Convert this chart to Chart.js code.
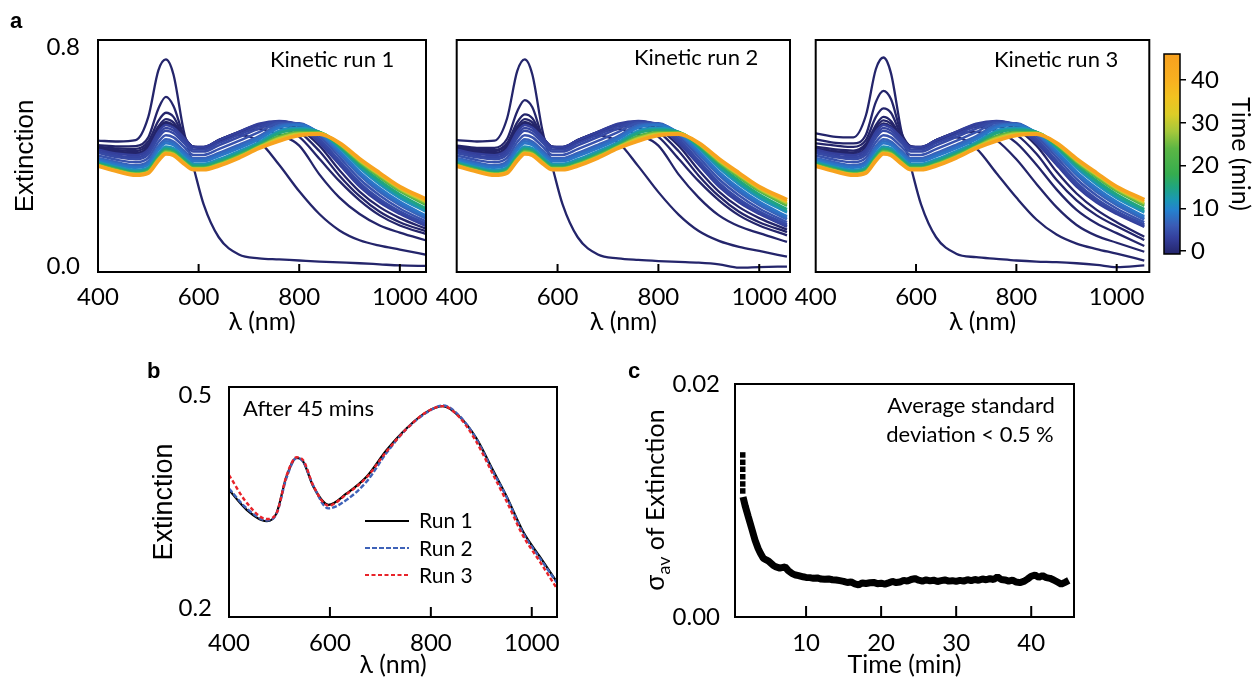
<!DOCTYPE html>
<html><head><meta charset="utf-8">
<script src="https://cdn.jsdelivr.net/npm/chart.js@4.4.1/dist/chart.umd.min.js"></script>
<style>
html,body{margin:0;padding:0;background:#fff;}
#wrap{position:relative;width:1255px;height:680px;overflow:hidden;background:#fff;}
canvas{position:absolute;}
</style></head><body>
<div id="wrap">
<canvas id="a1" width="440" height="345" style="left:0px;top:0px"></canvas>
<canvas id="a2" width="370" height="345" style="left:430px;top:0px"></canvas>
<canvas id="a3" width="370" height="345" style="left:790px;top:0px"></canvas>
<canvas id="cb" width="105" height="240" style="left:1150px;top:34px"></canvas>
<canvas id="pb" width="440" height="330" style="left:140px;top:350px"></canvas>
<canvas id="pc" width="500" height="330" style="left:600px;top:350px"></canvas>
</div>
<script>
// ---------------- DATA ----------------
// Panel a: wavelength grid (nm)
const wavelengthsA = [400,440,475,500,520,535,550,570,590,610,640,680,720,760,800,840,880,920,960,1000,1055];
const xTicksA = [400,600,800,1000];
const yTicksA = [0,0.8];

// early spectra (t = 0 .. 2.5 min), one set per kinetic run
const earlyTimes = [0,0.5,1,1.5,2,2.5];
const run1_t0  = [.458,.455,.46,.545,.715,.755,.70,.497,.36,.225,.105,.042,.028,.024,.02,.016,.013,.01,.006,.002,.0];
const run1_t05 = [.442,.437,.438,.47,.575,.618,.585,.48,.435,.432,.455,.478,.455,.37,.273,.19,.13,.094,.074,.06,.04];
const run1_t1  = [.436,.43,.428,.455,.53,.56,.545,.475,.435,.433,.458,.485,.50,.48,.44,.335,.25,.19,.148,.122,.092];
const run1_t15 = [.432,.423,.42,.445,.51,.537,.525,.472,.435,.434,.46,.488,.51,.505,.472,.392,.31,.24,.185,.148,.115];
const run1_t2  = [.428,.418,.413,.437,.50,.527,.515,.47,.435,.434,.46,.489,.515,.515,.49,.42,.33,.255,.198,.16,.125];
const run1_t25 = [.426,.414,.409,.431,.495,.521,.51,.47,.435,.435,.46,.49,.518,.523,.50,.44,.35,.272,.215,.175,.134];

const run2_t0  = [.46,.455,.458,.54,.712,.755,.70,.495,.36,.225,.105,.042,.028,.022,.018,.015,.012,.006,-.006,-.004,-.002];
const run2_t05 = [.44,.432,.432,.465,.565,.606,.58,.475,.435,.432,.455,.477,.452,.365,.27,.188,.128,.092,.07,.055,.034];
const run2_t1  = [.434,.427,.424,.45,.525,.554,.54,.472,.435,.433,.458,.485,.50,.48,.44,.335,.25,.185,.145,.12,.088];
const run2_t15 = [.432,.423,.42,.445,.51,.537,.525,.472,.435,.434,.46,.488,.51,.505,.472,.392,.31,.24,.185,.148,.112];
const run2_t2  = [.428,.418,.413,.437,.50,.527,.515,.47,.435,.434,.46,.489,.515,.515,.49,.42,.33,.255,.198,.16,.124];
const run2_t25 = [.426,.414,.409,.431,.495,.521,.51,.47,.435,.435,.46,.49,.518,.523,.50,.44,.35,.272,.215,.175,.133];

const run3_t0  = [.485,.472,.47,.55,.72,.762,.705,.50,.36,.225,.105,.045,.032,.026,.02,.016,.014,.01,.004,-.004,.002];
const run3_t05 = [.463,.45,.448,.48,.60,.64,.61,.49,.437,.433,.455,.47,.43,.34,.25,.17,.115,.082,.062,.045,.02];
const run3_t1  = [.448,.44,.435,.46,.545,.576,.56,.48,.436,.433,.458,.483,.49,.46,.39,.30,.215,.15,.11,.085,.052];
const run3_t15 = [.436,.426,.422,.447,.515,.545,.53,.474,.435,.434,.46,.487,.508,.495,.45,.37,.28,.205,.155,.12,.073];
const run3_t2  = [.43,.42,.415,.44,.505,.532,.52,.472,.435,.434,.46,.488,.513,.51,.48,.41,.315,.24,.185,.145,.095];
const run3_t25 = [.426,.414,.409,.431,.495,.521,.51,.47,.435,.435,.46,.49,.518,.523,.50,.44,.345,.265,.205,.16,.107];

// later spectra (dense coloured band), t = 3 .. 45 min
const bandTimes = [3,3.5,4,5,6.5,7.5,8.5,11,13,15,21,25,30,38,45];
const band_t3   = [.425,.41,.405,.425,.49,.515,.505,.47,.435,.435,.46,.49,.52,.53,.51,.45,.37,.29,.232,.19,.143];
const band_t3_5 = [.419,.403,.397,.416,.479,.504,.495,.46,.426,.426,.45,.48,.511,.529,.514,.457,.377,.297,.238,.195,.147];
const band_t4   = [.413,.397,.39,.408,.469,.494,.485,.451,.418,.418,.441,.471,.502,.527,.518,.465,.385,.305,.245,.2,.152];
const band_t5   = [.404,.387,.379,.395,.453,.478,.47,.437,.406,.406,.427,.457,.489,.522,.522,.475,.398,.318,.258,.21,.16];
const band_t6_5 = [.395,.378,.368,.383,.438,.463,.455,.423,.394,.394,.413,.443,.475,.515,.52,.482,.41,.332,.27,.222,.17];
const band_t7_5 = [.391,.373,.363,.377,.431,.456,.448,.416,.388,.388,.407,.436,.469,.51,.518,.485,.415,.338,.277,.228,.176];
const band_t8_5 = [.387,.369,.359,.371,.424,.449,.442,.41,.383,.383,.401,.43,.463,.505,.515,.487,.42,.345,.285,.235,.182];
const band_t11  = [.381,.362,.351,.362,.412,.437,.431,.40,.374,.374,.39,.42,.453,.495,.505,.49,.43,.358,.298,.248,.195];
const band_t13  = [.378,.359,.347,.358,.407,.432,.426,.395,.37,.37,.386,.415,.449,.49,.501,.49,.434,.364,.305,.255,.201];
const band_t15  = [.375,.356,.344,.354,.403,.428,.422,.391,.366,.366,.382,.411,.445,.485,.497,.49,.437,.37,.312,.262,.208];
const band_t21  = [.371,.352,.339,.349,.396,.421,.415,.385,.36,.36,.375,.405,.439,.475,.49,.489,.442,.378,.323,.273,.22];
const band_t25  = [.369,.35,.337,.346,.393,.418,.412,.382,.358,.358,.373,.402,.437,.471,.487,.487,.444,.381,.327,.277,.225];
const band_t30  = [.368,.348,.336,.344,.39,.415,.41,.38,.356,.356,.371,.40,.435,.467,.484,.486,.446,.385,.332,.282,.23];
const band_t38  = [.366,.346,.334,.342,.387,.412,.407,.377,.354,.354,.368,.397,.432,.462,.48,.484,.448,.389,.336,.286,.236];
const band_t45  = [.365,.345,.332,.34,.385,.41,.405,.375,.352,.352,.366,.395,.43,.457,.477,.482,.45,.392,.34,.29,.242];

// colour bar
const cbarTicks = [0,10,20,30,40];

// Panel b
const wavelengthsB = [400,435,475,494,514,534,547,567,597,633,673,712,752,792,824,857,890,923,950,983,1016,1049];
const bRun1 = [.366,.338,.322,.333,.385,.411,.406,.371,.345,.361,.385,.422,.453,.476,.484,.469,.439,.394,.357,.307,.272,.237];
const bRun2 = [.368,.34,.323,.332,.383,.411,.406,.372,.34,.352,.378,.418,.452,.475,.485,.47,.438,.392,.356,.305,.27,.236];
const bRun3 = [.387,.348,.325,.333,.386,.412,.408,.372,.344,.36,.384,.42,.452,.476,.484,.468,.434,.388,.35,.301,.265,.228];
const xTicksB = [400,600,800,1000];
const yTicksB = [0.2,0.5];

// Panel c
const cStartTimes  = [1.56,1.56,1.56,1.56,1.56,1.56];
const cStartValues = [.01391,.01328,.01268,.01204,.01142,.01082];
const cTimes = [1.6,1.9,2.3,2.8,3.2,3.6,3.9,4.3,4.7,5.0,5.6,6.0,6.5,7.2,7.6,8.1,8.6,9.0,9.6,10.0,
  10.5,11,11.5,12,12.5,13,13.5,14,14.5,15,15.5,16,16.5,17,17.5,18,18.5,19,19.5,20,
  20.5,21,21.5,22,22.5,23,23.5,24,24.5,25,25.5,26,26.5,27,27.5,28,28.5,29,29.5,30,
  30.5,31,31.5,32,32.5,33,33.5,34,34.5,35,35.5,36,36.5,37,37.5,38,38.5,39,39.5,40,
  40.5,41,41.5,42,42.5,43,43.5,44,44.5,45];
const cValues = [.0103,.0095,.0086,.0075,.0066,.0059,.0055,.00505,.0049,.0048,.00445,.0043,.0042,.0043,.004,.00375,.0036,.00355,.00345,.0034,
  .00338,.00332,.00335,.00326,.00324,.00327,.0032,.00318,.00312,.00306,.00296,.00302,.00285,.00276,.00292,.00288,.00294,.00297,.00286,.0029,
  .00282,.00293,.00305,.00296,.003,.00315,.00308,.00322,.0033,.00316,.00308,.00318,.0031,.00316,.00305,.00312,.00318,.00308,.00312,.00306,
  .00314,.00308,.0032,.00312,.00322,.00315,.00326,.0032,.0033,.00322,.00345,.00322,.00318,.00308,.00316,.003,.00295,.00305,.00325,.0035,
  .0036,.0034,.00355,.00338,.00332,.00318,.003,.00282,.00298,.00315];
const xTicksC = [10,20,30,40];
const yTicksC = [0,0.02];

// ---------------- STYLE ----------------
const FONT = "Lato, 'Open Sans', 'DejaVu Sans', sans-serif";
const ARIAL = "'Liberation Sans', Arial, sans-serif";
const NAVY = '#24256b';
const CB_MIN = -0.7, CB_MAX = 46.1;
const cmapStops = [[-0.7,'#24256b'],[3,'#343f9c'],[6,'#3a5cb6'],[9.5,'#2581cf'],[12,'#1b98b4'],[15,'#20a57e'],[18,'#35ad4f'],[24,'#5cb644'],[28,'#a6c83b'],[32,'#dccd27'],[36,'#f2c220'],[40,'#f8b020'],[46.1,'#f7a01e']];
Chart.defaults.font.family = FONT;
Chart.defaults.color = '#000';

function hexToRgb(h){h=h.replace('#','');return [parseInt(h.slice(0,2),16),parseInt(h.slice(2,4),16),parseInt(h.slice(4,6),16)];}
function colorAt(t){
  const s=cmapStops;
  if(t<=s[0][0]) return s[0][1];
  for(let i=1;i<s.length;i++){
    if(t<=s[i][0]){
      const f=(t-s[i-1][0])/(s[i][0]-s[i-1][0]);
      const a=hexToRgb(s[i-1][1]), b=hexToRgb(s[i][1]);
      return 'rgb('+[0,1,2].map(k=>Math.round(a[k]+(b[k]-a[k])*f)).join(',')+')';
    }
  }
  return s[s.length-1][1];
}
function fixedTicks(vals){ return s => { s.ticks = vals.map(v=>({value:v})); }; }
function pts(xs, ys){ return xs.map((x,i)=>({x:x, y:ys[i]})); }
const TICK = 24;

function deco(cfg){
  return {
    id:'deco',
    afterDatasetsDraw(chart){
      const ctx=chart.ctx, a=chart.chartArea;
      ctx.save();
      ctx.strokeStyle='#000';
      if(cfg.ticks){
        ctx.lineWidth=2;
        cfg.ticks.forEach(v=>{
          const px=chart.scales.x.getPixelForValue(v);
          ctx.beginPath(); ctx.moveTo(px,a.bottom); ctx.lineTo(px,a.bottom-cfg.tickLen); ctx.stroke();
        });
      }
      if(cfg.frame){
        ctx.lineWidth=cfg.frame;
        ctx.strokeRect(a.left,a.top,a.right-a.left,a.bottom-a.top);
      }
      ctx.restore();
    },
    afterDraw(chart){
      const ctx=chart.ctx;
      ctx.save();
      (cfg.texts||[]).forEach(t=>{
        ctx.font=(t.weight||'normal')+' '+t.size+'px '+(t.family||FONT);
        ctx.fillStyle='#000';
        ctx.textAlign=t.align||'left';
        ctx.textBaseline='alphabetic';
        ctx.fillText(t.text, t.x-cfg.ox, t.y-cfg.oy);
      });
      (cfg.legend||[]).forEach(l=>{
        ctx.strokeStyle=l.color; ctx.lineWidth=2.2; ctx.setLineDash(l.dash||[]);
        ctx.beginPath(); ctx.moveTo(l.x1-cfg.ox,l.y-cfg.oy); ctx.lineTo(l.x2-cfg.ox,l.y-cfg.oy); ctx.stroke();
        ctx.setLineDash([]);
        ctx.font='21px '+FONT; ctx.fillStyle='#000'; ctx.textAlign='left'; ctx.textBaseline='alphabetic';
        ctx.fillText(l.label, l.lx-cfg.ox, l.ly-cfg.oy);
      });
      if(cfg.sigma){
        const s=cfg.sigma;
        ctx.translate(s.x-cfg.ox, s.y-cfg.oy);
        ctx.rotate(-Math.PI/2);
        const f1='26px '+ARIAL, f2='18px '+FONT, f3='25px '+FONT;
        ctx.font=f1; const w1=ctx.measureText('σ').width;
        ctx.font=f2; const w2=ctx.measureText('av').width;
        ctx.font=f3; const w3=ctx.measureText(' of Extinction').width;
        let x0=-(w1+w2+w3)/2;
        ctx.textAlign='left'; ctx.textBaseline='alphabetic'; ctx.fillStyle='#000';
        ctx.font=f1; ctx.fillText('σ',x0,9); x0+=w1;
        ctx.font=f2; ctx.fillText('av',x0,15); x0+=w2;
        ctx.font=f3; ctx.fillText(' of Extinction',x0,9);
      }
      ctx.restore();
    }
  };
}

function tickFont(sz){ return {family:FONT, size:sz}; }

// ---------------- PANEL a ----------------
function spectra(id, ox, early, xMax, pad, showY, texts){
  const datasets=[];
  const bandCurves=[band_t3,band_t3_5,band_t4,band_t5,band_t6_5,band_t7_5,band_t8_5,band_t11,band_t13,band_t15,band_t21,band_t25,band_t30,band_t38,band_t45];
  for(let i=bandTimes.length-1;i>=0;i--){
    const t=bandTimes[i];
    datasets.push({data:pts(wavelengthsA,bandCurves[i]), borderColor:colorAt(t), borderWidth:(t===45?3.8:2.5),
      pointRadius:0, cubicInterpolationMode:'monotone', fill:false});
  }
  for(let i=early.length-1;i>=0;i--){
    datasets.push({data:pts(wavelengthsA,early[i]), borderColor:NAVY, borderWidth:2.3,
      pointRadius:0, cubicInterpolationMode:'monotone', fill:false});
  }
  const yScale = {type:'linear', min:-0.022, max:0.826, display:showY,
    afterBuildTicks:fixedTicks(yTicksA),
    grid:{display:false}, border:{display:false},
    ticks:{font:tickFont(TICK), color:'#000', padding:10, callback:v=>v.toFixed(1)},
    title:{display:true, text:'Extinction', font:{family:ARIAL,size:26}, color:'#000', padding:{top:10,bottom:0}}};
  if(showY) yScale.afterFit = s=>{s.width=98;};
  return new Chart(document.getElementById(id),{
    type:'line',
    data:{datasets},
    options:{
      responsive:false, animation:false, events:[],
      layout:{padding:{left:pad.l, top:40, right:pad.r, bottom:0}},
      plugins:{legend:{display:false}, tooltip:{enabled:false}},
      scales:{
        x:{type:'linear', min:400, max:xMax, afterBuildTicks:fixedTicks(xTicksA), afterFit:s=>{s.height=73;},
          grid:{display:false}, border:{display:false},
          ticks:{font:tickFont(TICK), color:'#000', padding:3, maxRotation:0, autoSkip:false, callback:v=>String(v)},
          title:{display:true, text:'λ (nm)', font:{family:FONT,size:25}, color:'#000', padding:{top:0,bottom:8}}},
        y:yScale
      }
    },
    plugins:[deco({ox:ox, oy:0, frame:2, ticks:[600,800,1000], tickLen:8, texts:texts})]
  });
}

spectra('a1', 0, [run1_t0,run1_t05,run1_t1,run1_t15,run1_t2,run1_t25], 1052, {l:0,r:14}, true,
  [{text:'a', x:10, y:28, size:22, weight:'bold', family:ARIAL},
   {text:'Kinetic run 1', x:270, y:67, size:22}]);
spectra('a2', 430, [run2_t0,run2_t05,run2_t1,run2_t15,run2_t2,run2_t25], 1061, {l:26.7,r:10}, false,
  [{text:'Kinetic run 2', x:634, y:65, size:22}]);
spectra('a3', 790, [run3_t0,run3_t05,run3_t1,run3_t15,run3_t2,run3_t25], 1065, {l:25.7,r:10.7}, false,
  [{text:'Kinetic run 3', x:994, y:67, size:22}]);

// ---------------- COLOUR BAR ----------------
new Chart(document.getElementById('cb'),{
  type:'bar',
  data:{labels:['t'], datasets:[{data:[[CB_MIN,CB_MAX]], borderWidth:0, barPercentage:1, categoryPercentage:1,
    backgroundColor:(c)=>{
      const ch=c.chart, a=ch.chartArea;
      if(!a) return NAVY;
      const ys=ch.scales.y;
      const y0=ys.getPixelForValue(CB_MIN), y1=ys.getPixelForValue(CB_MAX);
      const g=ch.ctx.createLinearGradient(0,y0,0,y1);
      cmapStops.forEach(s=>{
        const f=Math.min(1,Math.max(0,(s[0]-CB_MIN)/(CB_MAX-CB_MIN)));
        g.addColorStop(f, s[1]);
      });
      return g;
    }}]},
  options:{
    responsive:false, animation:false, events:[],
    layout:{padding:{left:14, top:20, right:0, bottom:20}},
    plugins:{legend:{display:false}, tooltip:{enabled:false}},
    scales:{
      x:{display:false},
      y:{position:'right', min:CB_MIN, max:CB_MAX, afterBuildTicks:fixedTicks(cbarTicks), afterFit:s=>{s.width=75;},
        grid:{drawOnChartArea:false, drawTicks:true, tickLength:6, color:'#000', lineWidth:1.5}, border:{display:false},
        ticks:{font:tickFont(TICK), color:'#000', padding:5},
        title:{display:true, text:'Time (min)', font:{family:FONT,size:25}, color:'#000', padding:0}}
    }
  },
  plugins:[deco({ox:1150, oy:34, frame:1.5})]
});

// ---------------- PANEL b ----------------
new Chart(document.getElementById('pb'),{
  type:'line',
  data:{datasets:[
    {data:pts(wavelengthsB,bRun3), borderColor:'#e8232a', borderWidth:2.4, borderDash:[4,2.5], pointRadius:0, cubicInterpolationMode:'monotone', fill:false},
    {data:pts(wavelengthsB,bRun2), borderColor:'#3e62b8', borderWidth:2.4, borderDash:[5,2], pointRadius:0, cubicInterpolationMode:'monotone', fill:false},
    {data:pts(wavelengthsB,bRun1), borderColor:'#000', borderWidth:2.2, pointRadius:0, cubicInterpolationMode:'monotone', fill:false}
  ]},
  options:{
    responsive:false, animation:false, events:[],
    layout:{padding:{left:0, top:37, right:23, bottom:0}},
    plugins:{legend:{display:false}, tooltip:{enabled:false}},
    scales:{
      x:{type:'linear', min:400, max:1050, afterBuildTicks:fixedTicks(xTicksB), afterFit:s=>{s.height=63;},
        grid:{display:false}, border:{display:false},
        ticks:{font:tickFont(TICK), color:'#000', padding:4, maxRotation:0, autoSkip:false, callback:v=>String(v)},
        title:{display:true, text:'λ (nm)', font:{family:FONT,size:25}, color:'#000', padding:{top:0,bottom:0}}},
      y:{type:'linear', min:0.187, max:0.511, afterBuildTicks:fixedTicks(yTicksB), afterFit:s=>{s.width=89;},
        grid:{display:false}, border:{display:false},
        ticks:{font:tickFont(TICK), color:'#000', padding:9, callback:v=>v.toFixed(1)},
        title:{display:true, text:'Extinction', font:{family:ARIAL,size:27}, color:'#000', padding:{top:8,bottom:0}}}
    }
  },
  plugins:[deco({ox:140, oy:350, frame:2, ticks:[600,800,1000], tickLen:10,
    texts:[{text:'b', x:147, y:378, size:22, weight:'bold', family:ARIAL},
           {text:'After 45 mins', x:243, y:416, size:22}],
    legend:[{x1:365,x2:409,y:521,color:'#000',label:'Run 1',lx:419,ly:528},
            {x1:365,x2:409,y:548,color:'#3e62b8',dash:[5,2],label:'Run 2',lx:419,ly:556},
            {x1:365,x2:409,y:575,color:'#e8232a',dash:[4,2.5],label:'Run 3',lx:419,ly:583}]})]
});

// ---------------- PANEL c ----------------
new Chart(document.getElementById('pc'),{
  type:'line',
  data:{datasets:[
    {data:pts(cStartTimes,cStartValues), showLine:false, pointStyle:'rect', pointRadius:3.9, backgroundColor:'#000', borderWidth:0},
    {data:pts(cTimes,cValues), borderColor:'#000', borderWidth:7, pointRadius:0, tension:0, fill:false, borderJoinStyle:'bevel', borderCapStyle:'butt'}
  ]},
  options:{
    responsive:false, animation:false, events:[],
    layout:{padding:{left:0, top:34, right:26, bottom:0}},
    plugins:{legend:{display:false}, tooltip:{enabled:false}},
    scales:{
      x:{type:'linear', min:0.53, max:45.7, afterBuildTicks:fixedTicks(xTicksC), afterFit:s=>{s.height=63;},
        grid:{display:false}, border:{display:false},
        ticks:{font:tickFont(TICK), color:'#000', padding:4, maxRotation:0, autoSkip:false, callback:v=>String(v)},
        title:{display:true, text:'Time (min)', font:{family:FONT,size:25}, color:'#000', padding:{top:0,bottom:0}}},
      y:{type:'linear', min:0, max:0.02, afterBuildTicks:fixedTicks(yTicksC), afterFit:s=>{s.width=135;},
        grid:{display:false}, border:{display:false},
        ticks:{font:tickFont(TICK), color:'#000', padding:7, callback:v=>v.toFixed(2)},
        title:{display:false}}
    }
  },
  plugins:[deco({ox:600, oy:350, frame:2, ticks:xTicksC, tickLen:11,
    texts:[{text:'c', x:628, y:378, size:22, weight:'bold', family:ARIAL},
           {text:'Average standard', x:971, y:413, size:22, align:'center'},
           {text:'deviation < 0.5 %', x:970, y:442, size:22, align:'center'}],
    sigma:{x:655, y:500}})]
});
</script>
</body></html>
